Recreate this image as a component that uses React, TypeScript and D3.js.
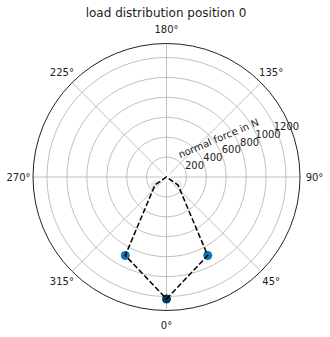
import React from "react";
import * as d3 from "d3";

const rollerCount = 13;
const rollerLoads = [1224, 890, 140, 0, 0, 0, 0, 0, 0, 0, 0, 140, 890];
const radialTicks = [200, 400, 600, 800, 1000, 1200];
const angleTicks = [0, 45, 90, 135, 180, 225, 270, 315];
const rMax = 1340;
const title = "load distribution position 0";
const radialLabel = "normal force in N";

const W = 330, H = 337;
const cx = 166.5, cy = 177, R = 133.5;
const FONT = "DejaVu Sans, sans-serif";

export default function App() {
  const r = d3.scaleLinear().domain([0, rMax]).range([0, R]);
  const color = d3.scaleSequential(d3.interpolatePuBu).domain([0, d3.max(rollerLoads) as number]);
  const rad = (deg: number) => (deg * Math.PI) / 180;
  const px = (deg: number, rr: number) => cx + rr * Math.sin(rad(deg));
  const py = (deg: number, rr: number) => cy + rr * Math.cos(rad(deg));
  const pts = rollerLoads.map((v, i) => ({ theta: (360 / rollerCount) * i, v }));
  const line = d3
    .lineRadial<{ theta: number; v: number }>()
    .angle((d) => Math.PI - rad(d.theta))
    .radius((d) => r(d.v))
    .curve(d3.curveLinearClosed);
  const labAng = 22.8; // degrees above horizontal
  const la = rad(labAng);
  const gridColor = "#b0b0b0";
  return (
    <svg width={W} height={H} style={{ display: "block", position: "absolute", left: 0, top: 0 }}>
      <rect width={W} height={H} fill="#fff" />
      <text x={166} y={13} textAnchor="middle" dominantBaseline="central" fontFamily={FONT} fontSize={12} fill="#222">
        {title}
      </text>
      {radialTicks.map((t) => (
        <circle key={t} cx={cx} cy={cy} r={r(t)} fill="none" stroke={gridColor} strokeWidth={0.8} />
      ))}
      {angleTicks.map((a) => (
        <line key={a} x1={cx} y1={cy} x2={px(a, R)} y2={py(a, R)} stroke={gridColor} strokeWidth={0.8} />
      ))}
      <circle cx={cx} cy={cy} r={R} fill="none" stroke="#222" strokeWidth={1} />
      {angleTicks.map((a) => (
        <text key={a} x={px(a, R + 14.5)} y={py(a, R + 14.5)} textAnchor="middle" dominantBaseline="central" fontFamily={FONT} fontSize={10} fill="#222">
          {a}°
        </text>
      ))}
      {radialTicks.map((t) => {
        const rr = r(t) + 10.5;
        return (
          <text key={t} x={cx + rr * Math.cos(la)} y={cy - rr * Math.sin(la)} textAnchor="middle" dominantBaseline="central" fontFamily={FONT} fontSize={10} fill="#222">
            {t}
          </text>
        );
      })}
      <text
        transform={`translate(${cx + 63 * Math.cos(la) - 15.5 * Math.sin(la)},${cy - 63 * Math.sin(la) - 15.5 * Math.cos(la)}) rotate(${-labAng})`}
        textAnchor="middle"
        dominantBaseline="central"
        fontFamily={FONT}
        fontSize={10}
        fill="#222"
      >
        {radialLabel}
      </text>
      {pts.map((d, i) => (
        <circle key={i} cx={px(d.theta, r(d.v))} cy={py(d.theta, r(d.v))} r={4.5} fill={color(d.v)} />
      ))}
      <path d={line(pts) || ""} transform={`translate(${cx},${cy})`} fill="none" stroke="#000" strokeWidth={1.5} strokeDasharray="5.5,2.4" />
    </svg>
  );
}
